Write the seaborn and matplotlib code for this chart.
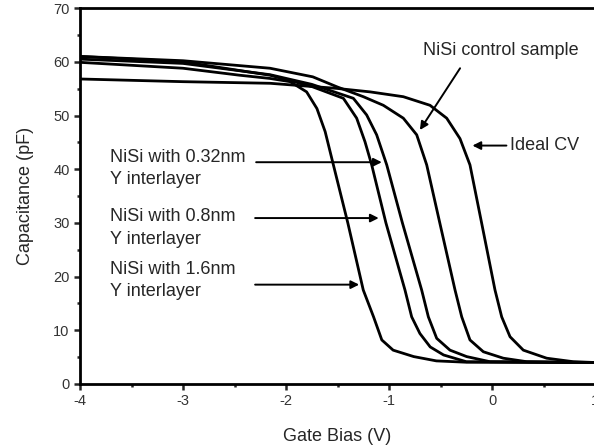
# C-V curves of NiSi gates with Y interlayers.
import pandas as pd
import matplotlib
matplotlib.use('Agg')
import matplotlib.pyplot as plt
import seaborn as sns

# Values.
bias_16 = [-4, -3, -2.45, -2.155, -1.96, -1.8, -1.7, -1.62, -1.54, -1.4, -1.25, -1.15, -1.07, -0.96, -0.76, -0.54, -0.25, 1.0]
cap_16 = [59.9, 58.8, 57.5, 56.9, 56.3, 54.4, 51.3, 47.0, 40.8, 30.0, 17.5, 12.5, 8.2, 6.3, 5.1, 4.3, 4.05, 4.0]

bias_08 = [-4, -3, -2.155, -1.75, -1.443, -1.314, -1.233, -1.168, -1.03, -0.845, -0.78, -0.7, -0.6, -0.47, -0.25, 1.0]
cap_08 = [61.0, 60.0, 57.5, 55.4, 53.2, 49.5, 45.1, 40.8, 30.0, 17.5, 12.5, 9.4, 6.9, 5.4, 4.15, 4.0]

bias_032 = [-4, -3, -2.155, -1.75, -1.346, -1.217, -1.12, -1.022, -0.87, -0.683, -0.618, -0.537, -0.408, -0.246, -0.02, 1.0]
cap_032 = [60.5, 59.7, 57.6, 55.8, 53.2, 50.1, 46.4, 40.8, 30.0, 17.5, 12.5, 8.5, 6.3, 5.1, 4.15, 4.0]

bias_ctrl = [-4, -3, -2.155, -1.74, -1.5, -1.249, -1.055, -0.861, -0.731, -0.634, -0.507, -0.359, -0.294, -0.214, -0.084, 0.11, 0.337, 1.0]
cap_ctrl = [61.0, 60.2, 58.8, 57.2, 55.3, 53.5, 51.9, 49.5, 46.4, 40.8, 30.0, 17.5, 12.5, 8.2, 6.0, 4.8, 4.15, 4.0]

bias_ideal = [-4, -3, -2.155, -1.508, -1.184, -0.861, -0.602, -0.44, -0.311, -0.214, -0.101, 0.029, 0.094, 0.175, 0.304, 0.531, 0.789, 1.0]
cap_ideal = [56.8, 56.3, 56.0, 55.05, 54.4, 53.5, 51.9, 49.5, 45.7, 40.8, 30.0, 17.5, 12.5, 8.8, 6.3, 4.8, 4.15, 4.0]

series = {
    '1.6nm': (bias_16, cap_16),
    '0.8nm': (bias_08, cap_08),
    '0.32nm': (bias_032, cap_032),
    'control': (bias_ctrl, cap_ctrl),
    'ideal': (bias_ideal, cap_ideal),
}

rows = []
for name, (xs, ys) in series.items():
    for x, y in zip(xs, ys):
        rows.append({'sample': name, 'bias': x, 'cap': y})
cv_data = pd.DataFrame(rows)

sns.set_style('ticks')
plt.rcParams['font.family'] = ['Liberation Sans', 'DejaVu Sans']
plt.rcParams['axes.unicode_minus'] = False

fig = plt.figure(figsize=(5.94, 4.48), dpi=100)
ax = fig.add_axes([0.1347, 0.1429, 0.867, 0.839])

sns.lineplot(data=cv_data, x='bias', y='cap', hue='sample', palette=['black'] * 5,
             estimator=None, sort=False, legend=False, linewidth=2.0, ax=ax)

ax.set_xlim(-4, 1)
ax.set_ylim(0, 70)
ax.set_xticks([-4, -3, -2, -1, 0, 1])
ax.set_yticks(range(0, 71, 10))
ax.set_xticks([-3.5, -2.5, -1.5, -0.5, 0.5], minor=True)
ax.set_yticks(range(5, 70, 10), minor=True)
ax.tick_params(axis='both', which='major', direction='out', length=4.5, width=1.8,
               labelsize=10.5, labelcolor='#333333', pad=3)
ax.tick_params(axis='both', which='minor', direction='out', length=2.5, width=1.8)

for side in ['left', 'bottom', 'top', 'right']:
    ax.spines[side].set_linewidth(2.0)
    ax.spines[side].set_color('black')

ax.set_xlabel('Gate Bias (V)', fontsize=13, labelpad=14)
ax.set_ylabel('Capacitance (pF)', fontsize=13, labelpad=14)

fs = 13
arrow = dict(arrowstyle='-|>', color='black', lw=1.4, mutation_scale=12, shrinkA=0, shrinkB=0)

ax.text(-3.709, 41.3, 'NiSi with 0.32nm', fontsize=fs, va='baseline')
ax.text(-3.709, 37.3, 'Y interlayer', fontsize=fs, va='baseline')
ax.annotate('', xy=(-1.07, 41.3), xytext=(-2.29, 41.3), arrowprops=arrow)

ax.text(-3.709, 30.4, 'NiSi with 0.8nm', fontsize=fs, va='baseline')
ax.text(-3.709, 26.0, 'Y interlayer', fontsize=fs, va='baseline')
ax.annotate('', xy=(-1.10, 30.9), xytext=(-2.30, 30.9), arrowprops=arrow)

ax.text(-3.709, 20.5, 'NiSi with 1.6nm', fontsize=fs, va='baseline')
ax.text(-3.709, 16.4, 'Y interlayer', fontsize=fs, va='baseline')
ax.annotate('', xy=(-1.29, 18.5), xytext=(-2.30, 18.5), arrowprops=arrow)

ax.text(-0.67, 61.3, 'NiSi control sample', fontsize=fs, va='baseline')
ax.annotate('', xy=(-0.70, 47.3), xytext=(-0.31, 58.8), arrowprops=arrow)

ax.text(0.17, 43.5, 'Ideal CV', fontsize=fs, va='baseline')
ax.annotate('', xy=(-0.19, 44.4), xytext=(0.14, 44.4), arrowprops=arrow)

plt.savefig('out.png', dpi=100)
